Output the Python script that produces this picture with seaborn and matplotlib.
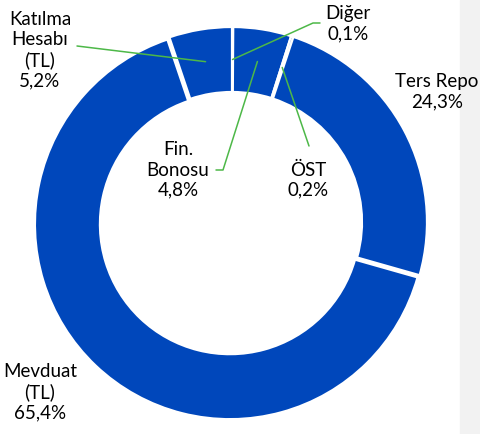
import numpy as np
import matplotlib
matplotlib.use("Agg")
import matplotlib.pyplot as plt
import seaborn as sns

# slices, clockwise from 12 o'clock
names = ["Diğer", "Fin.\nBonosu", "ÖST", "Ters Repo", "Mevduat\n(TL)", "Katılma\nHesabı\n(TL)"]
shares = [0.1, 4.8, 0.2, 24.3, 65.4, 5.2]

# label anchor spots (pixels from top-left), leader line ends and stub length
label_xy = [(348, 24), (178, 170), (308, 180), (437, 92), (40, 392), (40, 50)]
leader_end = [(320, 23), (216, 170), (309, 146), None, None, (77, 46)]
stubs = [7, 7, 0, 0, 0, 0]

sns.set_theme(style="white")
plt.rcParams['font.family'] = ['Lato', 'DejaVu Sans']

blue = "#0047BB"
green = "#4DB848"

W, H = 480, 434
fig = plt.figure(figsize=(W / 100, H / 100), dpi=100)
ax = fig.add_axes([0, 0, 1, 1])

# light grey strip on the right edge
ax.add_patch(plt.Rectangle((460, 0), 20, H, color="#F2F2F2", zorder=0))

cx, cy, R, ring = 232, H - 222, 195, 65
# pie explode is in data units here (pixels), Mevduat pulled out a bit
explode = [0, 0, 0, 0, 3.0, 0]
wedges, _ = ax.pie(shares, radius=R, center=(cx, cy), startangle=90,
                   counterclock=False, colors=[blue] * len(shares),
                   explode=explode,
                   wedgeprops=dict(width=ring, edgecolor="white", linewidth=1.6))
ax.set_xlim(0, W)
ax.set_ylim(0, H)
ax.set_aspect("auto")
ax.axis("off")

for w, name, val, (lx, ly), end, stub in zip(wedges, names, shares, label_xy, leader_end, stubs):
    txt = name + "\n" + f"{val:.1f}".replace(".", ",") + "%"
    ax.text(lx, H - ly, txt, ha="center", va="center", fontsize=13.5,
            color="black", linespacing=1.22, zorder=5)
    if end is not None:
        mid = np.deg2rad((w.theta1 + w.theta2) / 2)
        r0 = R - ring / 2
        sx, sy = cx + r0 * np.cos(mid), cy + r0 * np.sin(mid)
        ex, ey = end[0], H - end[1]
        s = stub if ex > sx else -stub
        ax.plot([sx, ex - s, ex], [sy, ey, ey], color=green, lw=1.1, zorder=4)

fig.savefig("out.png", dpi=100)
